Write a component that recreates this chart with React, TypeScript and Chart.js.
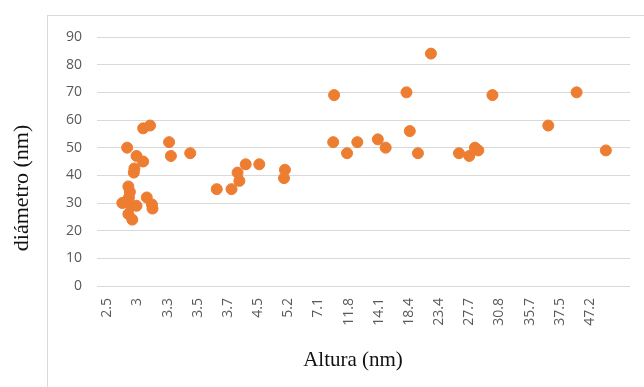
import React, { useEffect, useRef } from "react";
import { Chart, registerables } from "chart.js";

Chart.register(...registerables);

// Category labels shown on the horizontal axis (Altura, nm)
const alturaLabels = [
  "2.5", "3", "3.3", "3.5", "3.7", "4.5", "5.2", "7.1", "11.8",
  "14.1", "18.4", "23.4", "27.7", "30.8", "35.7", "37.5", "47.2",
];

// Point positions along the category axis (in label-index units)
const alturaPos = [
  0.5, 0.62, 0.66, 0.7, 0.75, 0.7, 0.83, 0.78, 0.72, 0.97,
  0.88, 0.9, 0.97, 1.19, 1.19, 1.42, 1.31, 1.48, 1.5, 2.05,
  2.11, 2.75, 3.63, 4.12, 4.38, 4.32, 4.59, 5.04, 5.89, 5.86,
  7.52, 7.49, 7.95, 8.29, 8.97, 9.23, 9.92, 10.03, 10.3, 10.73,
  11.66, 12.0, 12.19, 12.3, 12.77, 14.62, 15.56, 16.53,
];

// Diámetro values (nm)
const diametro = [
  30, 30.5, 50, 36, 34, 26, 24, 29, 32, 29,
  41, 42.5, 47, 45, 57, 58, 32, 29.5, 28, 52,
  47, 48, 35, 35, 38, 41, 44, 44, 42, 39,
  69, 52, 48, 52, 53, 50, 70, 56, 48, 84,
  48, 47, 50, 49, 69, 58, 70, 49,
];

const yTicks = [0, 10, 20, 30, 40, 50, 60, 70, 80, 90];

const ORANGE = "#ED7D31";
const GRID = "#d9d9d9";
const TICK = "#595959";

export default function App() {
  const ref = useRef<HTMLCanvasElement | null>(null);

  useEffect(() => {
    if (!ref.current) return;
    const points = alturaPos.map((x, i) => ({ x, y: diametro[i] }));

    const frame = {
      id: "frame",
      beforeDraw(chart: any) {
        const ctx = chart.ctx;
        ctx.save();
        ctx.fillStyle = "#ffffff";
        ctx.fillRect(0, 0, chart.width, chart.height);
        ctx.strokeStyle = GRID;
        ctx.lineWidth = 1;
        ctx.strokeRect(47.5, 15.5, 800, 600);
        ctx.restore();
      },
      afterDraw(chart: any) {
        const ctx = chart.ctx;
        ctx.save();
        ctx.fillStyle = "#111111";
        ctx.font = "21px 'Liberation Serif', serif";
        ctx.textAlign = "center";
        ctx.textBaseline = "middle";
        ctx.fillText("Altura (nm)", 353, 360);
        ctx.font = "22px 'Liberation Serif', serif";
        ctx.translate(22, 188);
        ctx.rotate(-Math.PI / 2);
        ctx.fillText("diámetro (nm)", 0, 0);
        ctx.restore();
      },
    };

    const chart = new Chart(ref.current, {
      type: "scatter",
      data: {
        datasets: [
          {
            data: points,
            backgroundColor: ORANGE,
            borderColor: ORANGE,
            borderWidth: 1,
            pointRadius: 5.5,
            pointHoverRadius: 5.5,
          },
        ],
      },
      options: {
        animation: false,
        responsive: false,
        events: [],
        layout: { padding: { top: 37, right: 14, left: 0, bottom: 0 } },
        plugins: {
          legend: { display: false },
          tooltip: { enabled: false },
          title: { display: false },
        },
        scales: {
          x: {
            type: "linear",
            min: -0.34,
            max: 17.33,
            afterBuildTicks(scale: any) {
              scale.ticks = alturaLabels.map((_, i) => ({ value: i }));
            },
            afterFit(scale: any) {
              scale.height = 101;
            },
            grid: { display: false, drawTicks: false },
            border: { display: false },
            ticks: {
              autoSkip: false,
              maxRotation: 90,
              minRotation: 90,
              padding: 12,
              color: TICK,
              font: { family: "'Open Sans'", size: 14 },
              callback: (v: any) => alturaLabels[Math.round(Number(v))] ?? "",
            },
          },
          y: {
            type: "linear",
            min: 0,
            max: 90,
            afterBuildTicks(scale: any) {
              scale.ticks = yTicks.map((v) => ({ value: v }));
            },
            afterFit(scale: any) {
              scale.width = 97;
            },
            grid: { color: GRID, lineWidth: 1, drawTicks: false },
            border: { display: false },
            ticks: {
              padding: 15,
              color: TICK,
              font: { family: "'Open Sans'", size: 14 },
            },
          },
        },
      },
      plugins: [frame],
    } as any);

    return () => chart.destroy();
  }, []);

  return (
    <div style={{ position: "fixed", left: 0, top: 0, width: 644, height: 387, background: "#fff" }}>
      <canvas ref={ref} width={644} height={387} style={{ width: 644, height: 387, display: "block" }} />
    </div>
  );
}
